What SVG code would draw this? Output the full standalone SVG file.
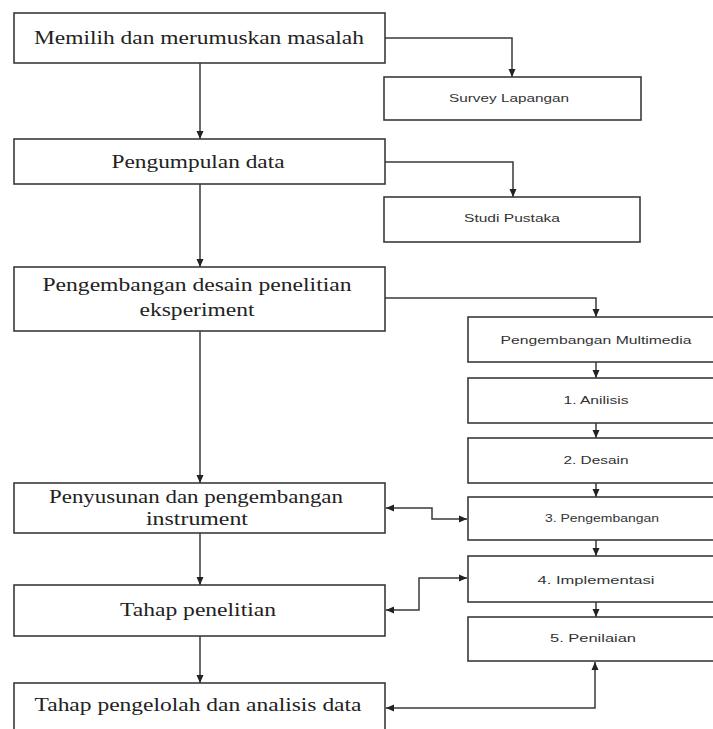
<svg xmlns="http://www.w3.org/2000/svg" width="713" height="729" viewBox="0 0 713 729">
<style>
.box{fill:#fff;stroke:#3a3a3a;stroke-width:1.6}
.serif{font-family:"Liberation Serif","Times New Roman",serif;font-size:19px;fill:#222;text-anchor:middle}
.sans{font-family:"Liberation Sans",Arial,sans-serif;font-size:10.5px;fill:#333;text-anchor:middle}
.con{fill:none;stroke:#3a3a3a;stroke-width:1.5}
</style>
<defs>
<marker id="ah" markerUnits="userSpaceOnUse" markerWidth="10" markerHeight="10" viewBox="0 0 10 10" refX="9" refY="5" orient="auto-start-reverse">
<path d="M1,1.5 L9,5 L1,8.5 Z" fill="#222"/>
</marker>
</defs>
<rect width="713" height="729" fill="#fff"/>
<g id="connectors">
<path class="con" d="M200,63 V139" marker-end="url(#ah)"/>
<path class="con" d="M200,184 V267" marker-end="url(#ah)"/>
<path class="con" d="M200,331 V483" marker-end="url(#ah)"/>
<path class="con" d="M200,533 V585" marker-end="url(#ah)"/>
<path class="con" d="M200,636 V683" marker-end="url(#ah)"/>
<path class="con" d="M385,38 H512 V77" marker-end="url(#ah)"/>
<path class="con" d="M385,162 H513 V197" marker-end="url(#ah)"/>
<path class="con" d="M385,298 H596 V317" marker-end="url(#ah)"/>
<path class="con" d="M596,362 V378" marker-end="url(#ah)"/>
<path class="con" d="M596,423 V438" marker-end="url(#ah)"/>
<path class="con" d="M596,483 V497" marker-end="url(#ah)"/>
<path class="con" d="M596,540 V556" marker-end="url(#ah)"/>
<path class="con" d="M596,602 V617" marker-end="url(#ah)"/>
<path class="con" d="M386,508 H432 V519 H467" marker-start="url(#ah)" marker-end="url(#ah)"/>
<path class="con" d="M386,610 H419 V578 H467" marker-start="url(#ah)" marker-end="url(#ah)"/>
<path class="con" d="M386,708 H595 V662" marker-start="url(#ah)" marker-end="url(#ah)"/>
</g>
<g id="n1"><rect class="box" x="14" y="13" width="371" height="50"/><text class="serif" x="199" y="44" textLength="330" lengthAdjust="spacingAndGlyphs">Memilih dan merumuskan masalah</text></g>
<g id="n2"><rect class="box" x="14" y="139" width="371" height="45"/><text class="serif" x="198" y="168" textLength="173" lengthAdjust="spacingAndGlyphs">Pengumpulan data</text></g>
<g id="n3"><rect class="box" x="14" y="267" width="371" height="64"/><text class="serif" x="197" y="291" textLength="309" lengthAdjust="spacingAndGlyphs">Pengembangan desain penelitian</text><text class="serif" x="197" y="316" textLength="115" lengthAdjust="spacingAndGlyphs">eksperiment</text></g>
<g id="n4"><rect class="box" x="14" y="483" width="371" height="50"/><text class="serif" x="196" y="503" textLength="294" lengthAdjust="spacingAndGlyphs">Penyusunan dan pengembangan</text><text class="serif" x="197" y="525" textLength="102" lengthAdjust="spacingAndGlyphs">instrument</text></g>
<g id="n5"><rect class="box" x="14" y="585" width="371" height="51"/><text class="serif" x="198" y="616" textLength="156" lengthAdjust="spacingAndGlyphs">Tahap penelitian</text></g>
<g id="n6"><rect class="box" x="14" y="683" width="371" height="60"/><text class="serif" x="198" y="711" textLength="327" lengthAdjust="spacingAndGlyphs">Tahap pengelolah dan analisis data</text></g>
<g id="r1"><rect class="box" x="384" y="77" width="257" height="43"/><text class="sans" x="509" y="102" textLength="120" lengthAdjust="spacingAndGlyphs">Survey Lapangan</text></g>
<g id="r2"><rect class="box" x="384" y="197" width="256" height="45"/><text class="sans" x="512" y="222" textLength="96" lengthAdjust="spacingAndGlyphs">Studi Pustaka</text></g>
<g id="r3"><rect class="box" x="468" y="317" width="260" height="45"/><text class="sans" x="596" y="344" textLength="191" lengthAdjust="spacingAndGlyphs">Pengembangan Multimedia</text></g>
<g id="r4"><rect class="box" x="468" y="378" width="260" height="45"/><text class="sans" x="596" y="404" textLength="65" lengthAdjust="spacingAndGlyphs">1. Anilisis</text></g>
<g id="r5"><rect class="box" x="468" y="438" width="260" height="45"/><text class="sans" x="596" y="464" textLength="65" lengthAdjust="spacingAndGlyphs">2. Desain</text></g>
<g id="r6"><rect class="box" x="468" y="497" width="260" height="43"/><text class="sans" x="602" y="522" textLength="114" lengthAdjust="spacingAndGlyphs">3. Pengembangan</text></g>
<g id="r7"><rect class="box" x="468" y="556" width="260" height="46"/><text class="sans" x="596" y="584" textLength="117" lengthAdjust="spacingAndGlyphs">4. Implementasi</text></g>
<g id="r8"><rect class="box" x="468" y="617" width="260" height="44"/><text class="sans" x="593" y="642" textLength="86" lengthAdjust="spacingAndGlyphs">5. Penilaian</text></g>
</svg>
